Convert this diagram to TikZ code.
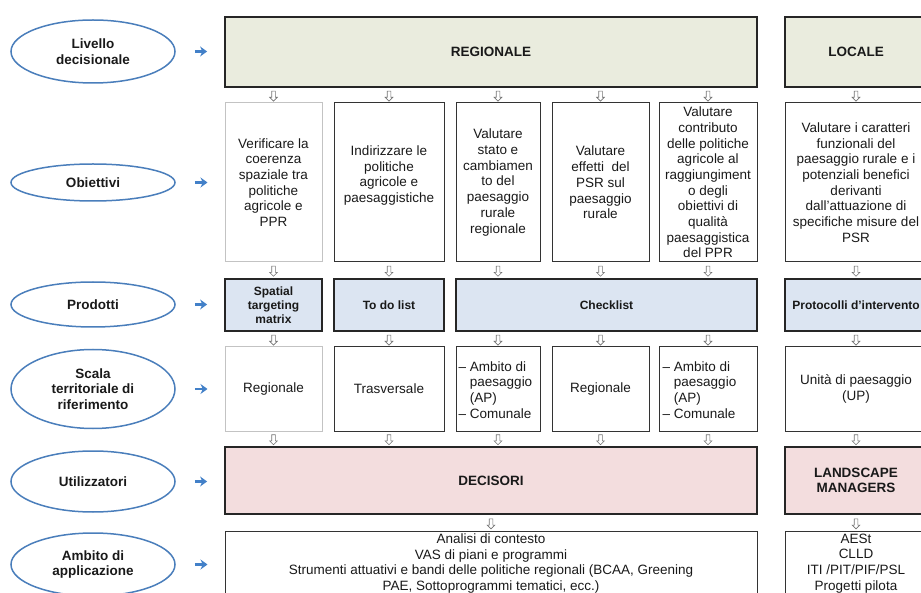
\documentclass[tikz,border=0pt]{standalone}
\usepackage{fontspec}
\setmainfont{Liberation Sans}
\usetikzlibrary{shapes.geometric,shapes.arrows,arrows.meta,calc}

\definecolor{ellblue}{RGB}{74,126,187}
\definecolor{arrblue}{RGB}{66,128,200}
\definecolor{levfill}{RGB}{234,236,222}
\definecolor{prodfill}{RGB}{220,229,242}
\definecolor{userfill}{RGB}{243,221,222}
\definecolor{hgray}{RGB}{115,115,115}
\definecolor{lgray}{RGB}{195,195,195}
\definecolor{txt}{RGB}{25,25,25}

\begin{document}
\begin{tikzpicture}[x=1pt,y=-1pt,
  every node/.style={font=\fontsize{13.5}{15.7}\selectfont, text=txt},
  lab/.style={ellipse, draw=ellblue, line width=1.5pt, minimum width=164pt,
    inner sep=0pt, align=center, font=\bfseries\fontsize{13.5}{15.7}\selectfont},
  thickbox/.style={rectangle, draw=black!85, line width=1.8pt, inner sep=0pt, align=center},
  thinbox/.style={rectangle, draw=black!80, line width=1pt, inner sep=0pt, align=center},
  lightbox/.style={rectangle, draw=lgray, line width=1pt, inner sep=0pt, align=center},
  levbox/.style={thickbox, fill=levfill, minimum height=70pt, font=\bfseries\fontsize{13.5}{15.7}\selectfont},
  prodbox/.style={thickbox, fill=prodfill, minimum height=52pt, font=\bfseries\fontsize{12}{14}\selectfont},
  userbox/.style={thickbox, fill=userfill, minimum height=67pt, font=\bfseries\fontsize{13.5}{15.7}\selectfont},
  harr/.style={single arrow, rotate=-90, draw=hgray, fill=white, line width=0.6pt,
    minimum height=10pt, minimum width=7pt, inner sep=1.5pt, single arrow head extend=2pt},
  barr/.style={draw=arrblue, line width=2.8pt, -{Stealth[length=7pt,width=10pt]},
    shorten <=19pt, shorten >=17pt}
]
\useasboundingbox (0,0) rectangle (921,593);
\clip (0,0) rectangle (921,593);

% left labels
\node[lab, minimum height=63pt] (e1) at (93,51.5) {Livello\\decisionale};
\node[lab, minimum height=37pt] (e2) at (93,182.5) {Obiettivi};
\node[lab, minimum height=45pt] (e3) at (93,304.5) {Prodotti};
\node[lab, minimum height=79pt] (e4) at (93,389) {Scala\\territoriale di\\riferimento};
\node[lab, minimum height=61pt] (e5) at (93,481.5) {Utilizzatori};
\node[lab, minimum height=63pt] (e6) at (93,564.5) {Ambito di\\applicazione};

% row 1
\node[levbox, minimum width=532pt] (reg) at (491,52) {REGIONALE};
\node[levbox, minimum width=142pt] (loc) at (856,52) {LOCALE};

% row 2 objectives
\node[lightbox, minimum width=97pt, minimum height=159pt] (o1) at (273.5,182.5) {Verificare la\\coerenza\\spaziale tra\\politiche\\agricole e\\PPR};
\node[thinbox, minimum width=110pt, minimum height=159pt] (o2) at (389,182.5) {};
\node[align=center] at ([yshift=7pt]o2.center) {Indirizzare le\\politiche\\agricole e\\paesaggistiche};
\node[thinbox, minimum width=84pt, minimum height=159pt] (o3) at (498,182.5) {Valutare\\stato e\\cambiamen\\to del\\paesaggio\\rurale\\regionale};
\node[thinbox, minimum width=97pt, minimum height=159pt] (o4) at (600.5,182.5) {Valutare\\effetti\ \ del\\PSR sul\\paesaggio\\rurale};
\node[thinbox, minimum width=98pt, minimum height=159pt] (o5) at (708,182.5) {Valutare\\contributo\\delle politiche\\agricole al\\raggiungiment\\o degli\\obiettivi di\\qualità\\paesaggistica\\del PPR};
\node[thinbox, minimum width=142pt, minimum height=159pt] (o6) at (856,182.5) {Valutare i caratteri\\funzionali del\\paesaggio rurale e i\\potenziali benefici\\derivanti\\dall’attuazione di\\specifiche misure del\\PSR};

% row 3 products
\node[prodbox, minimum width=97pt] (p1) at (273.5,305) {Spatial\\targeting\\matrix};
\node[prodbox, minimum width=110pt] (p2) at (389,305) {To do list};
\node[prodbox, minimum width=301pt] (p3) at (606.5,305) {Checklist};
\node[prodbox, minimum width=142pt] (p6) at (856,305) {Protocolli d’intervento};

% row 4 scale
\node[lightbox, minimum width=97pt, minimum height=84pt] (s1) at (273.5,389) {Regionale};
\node[thinbox, minimum width=110pt, minimum height=84pt] (s2) at (389,389) {Trasversale};
\node[thinbox, minimum width=84pt, minimum height=84pt] (s3) at (498,389) {};
\node[align=left, anchor=west, inner sep=0pt] at ([xshift=3pt,yshift=-1pt]s3.west) {– Ambito di\\\hphantom{– }paesaggio\\\hphantom{– }(AP)\\– Comunale};
\node[thinbox, minimum width=97pt, minimum height=84pt] (s4) at (600.5,389) {Regionale};
\node[thinbox, minimum width=98pt, minimum height=84pt] (s5) at (708,389) {};
\node[align=left, anchor=west, inner sep=0pt] at ([xshift=4pt,yshift=-1pt]s5.west) {– Ambito di\\\hphantom{– }paesaggio\\\hphantom{– }(AP)\\– Comunale};
\node[thinbox, minimum width=142pt, minimum height=84pt] (s6) at (856,389) {Unità di paesaggio\\(UP)};

% row 5 users
\node[userbox, minimum width=532pt] (u1) at (491,480.5) {DECISORI};
\node[userbox, minimum width=142pt] (u6) at (856,480.5) {LANDSCAPE\\MANAGERS};

% row 6 application
\node[thinbox, minimum width=532pt, minimum height=80pt, anchor=north] (a1) at (491,531) {};
\node[align=center, anchor=north, inner sep=0pt] at ([yshift=-2.5pt]a1.north) {Analisi di contesto\\VAS di piani e programmi\\Strumenti attuativi e bandi delle politiche regionali (BCAA, Greening\\PAE, Sottoprogrammi tematici, ecc.)};
\node[thinbox, minimum width=142pt, minimum height=80pt, anchor=north] (a6) at (856,531) {};
\node[align=center, anchor=north, inner sep=0pt] at ([yshift=-2.5pt]a6.north) {AESt\\CLLD\\ITI /PIT/PIF/PSL\\Progetti pilota};

% blue arrows
\foreach \e/\b in {e1/reg, e2/o1, e3/p1, e4/s1, e5/u1, e6/a1}
  \draw[barr] (\e.east) -- (\e.east -| \b.west);

% hollow down arrows
\foreach \a/\b in {reg/o1, reg/o2, reg/o3, reg/o4, reg/o5, loc/o6, o1/p1, o2/p2, o6/p6,
                   p1/s1, p2/s2, p3/s3, p3/s4, p3/s5, p6/s6, u1/a1, u6/a6}
  \path (\a.south -| \b.north) -- node[harr]{} (\b.north);
\foreach \a/\b in {o3/p3, o4/p3, o5/p3, s1/u1, s2/u1, s3/u1, s4/u1, s5/u1, s6/u6}
  \path (\a.south) -- node[harr]{} (\a.south |- \b.north);
\end{tikzpicture}
\end{document}
